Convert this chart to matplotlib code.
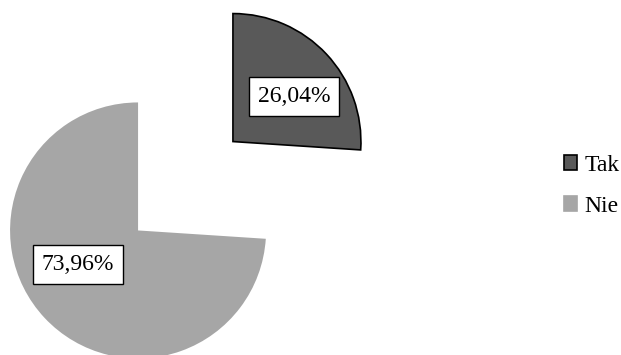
import matplotlib
matplotlib.use("Agg")
import matplotlib.pyplot as plt
import matplotlib.patches as mpatches
import numpy as np

# data
labels = ["Tak", "Nie"]
shares = [26.04, 73.96]
colors = ["#595959", "#a6a6a6"]
edges = ["black", "none"]

# layout in pixel units (y up)
W, H = 621, 355
center = (185.5, 169)
radius = 128
explode_px = 65
label_offsets = [(61, 45), (-60, -34)]  # label centre relative to slice tip


def pct_label(value):
    return f"{value:.2f}%".replace(".", ",")


def main():
    plt.rcParams["font.family"] = ["Liberation Serif", "DejaVu Serif"]
    fig = plt.figure(figsize=(W / 100, H / 100), dpi=100)
    ax = fig.add_axes([0, 0, 1, 1])

    wedges, _ = ax.pie(
        shares,
        colors=colors,
        startangle=90,
        counterclock=False,
        center=center,
        radius=radius,
        explode=[explode_px] * len(shares),
        frame=True,
    )
    ax.set_xlim(0, W)
    ax.set_ylim(0, H)
    ax.set_aspect("equal")
    ax.axis("off")

    for w, ec in zip(wedges, edges):
        w.set_edgecolor(ec)
        w.set_linewidth(1.2 if ec != "none" else 0)

    for w, val, off in zip(wedges, shares, label_offsets):
        cx, cy = w.center
        ax.text(cx + off[0], cy + off[1], pct_label(val),
                ha="center", va="center", fontsize=17,
                bbox=dict(boxstyle="square,pad=0.38", fc="white", ec="black", lw=1.0))

    handles = [mpatches.Patch(facecolor=c, edgecolor=("black" if e != "none" else c), lw=1.2)
               for c, e in zip(colors, edges)]
    ax.legend(handles, labels, loc="center left", bbox_to_anchor=(564 / W, (H - 186) / H),
              frameon=False, fontsize=17, handlelength=0.55, handleheight=0.6,
              handletextpad=0.3, labelspacing=0.85, borderpad=0, borderaxespad=0)

    fig.savefig("out.png", dpi=100)


main()
